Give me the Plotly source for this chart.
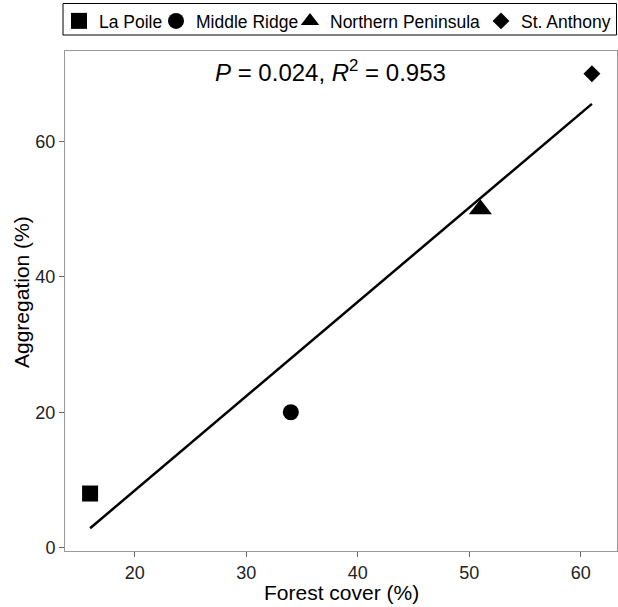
import numpy as np
import plotly.graph_objects as go

sites = ["La Poile", "Middle Ridge", "Northern Peninsula", "St. Anthony"]
forest_cover = [16, 34, 51, 61]
aggregation = [8, 20, 50, 70]
symbols = ["square", "circle", "triangle-up", "diamond"]
sizes = [16, 16, 20, 13]
x_ticks = [20, 30, 40, 50, 60]
y_ticks = [0, 20, 40, 60]
x_title = "Forest cover (%)"
y_title = "Aggregation (%)"
stats_text = "<i>P</i> = 0.024, <i>R</i><sup>2</sup> = 0.953"

FONT = "Liberation Sans, Arial, sans-serif"
W, H = 618, 607
L, R, T, B = 65, 1, 51, 56
PW, PH = W - L - R, H - T - B

# legend text start positions (px) for each entry
legend_text_x = [99, 196, 330, 521]
legend_names = ["legend", "legend2", "legend3", "legend4"]

fig = go.Figure()
for s, x, y, sym, sz, lg in zip(sites, forest_cover, aggregation, symbols, sizes, legend_names):
    fig.add_trace(go.Scatter(x=[x], y=[y], mode="markers", name=s, legend=lg,
                             marker=dict(symbol=sym, size=sz, color="black"),
                             showlegend=True))

slope, intercept = np.polyfit(forest_cover, aggregation, 1)
xl = np.array([min(forest_cover), max(forest_cover)])
fig.add_trace(go.Scatter(x=xl, y=slope * xl + intercept, mode="lines",
                         line=dict(color="black", width=2.5), showlegend=False))

fig.add_annotation(x=37.6, y=1.0, xref="x", yref="paper", yanchor="middle", yshift=-20,
                   text=stats_text, showarrow=False,
                   font=dict(size=24, color="black", family=FONT))

# axis titles placed as annotations
fig.add_annotation(x=0.5, y=(H - B - 592) / PH, xref="paper", yref="paper",
                   xanchor="center", yanchor="middle", text=x_title, showarrow=False,
                   font=dict(size=21, color="black", family=FONT))
fig.add_annotation(x=(21 - L) / PW, y=(H - B - 292) / PH, xref="paper", yref="paper",
                   xanchor="center", yanchor="middle", text=y_title, showarrow=False,
                   textangle=-90, font=dict(size=21, color="black", family=FONT))

# legend border box
fig.add_shape(type="rect", xref="paper", yref="paper",
              x0=(63 - L) / PW, x1=(616.5 - L) / PW,
              y0=(H - B - 35) / PH, y1=(H - B - 3.5) / PH,
              line=dict(color="black", width=1), fillcolor="rgba(0,0,0,0)", layer="above")

axis_common = dict(showgrid=False, zeroline=False, showline=True, linecolor="#999999",
                   linewidth=1, mirror=True, ticks="outside", ticklen=5,
                   tickcolor="#666666", tickfont=dict(size=18, color="#222222", family=FONT))

legend_layouts = {}
for lg, tx in zip(legend_names, legend_text_x):
    legend_layouts[lg] = dict(orientation="h", x=(tx - 40 - L) / PW, xanchor="left",
                              y=1 - 3 / H, yanchor="top", yref="container",
                              borderwidth=0, bgcolor="rgba(0,0,0,0)",
                              font=dict(size=17.5, family=FONT, color="black"),
                              itemwidth=30)

fig.update_layout(
    width=W, height=H,
    margin=dict(l=L, r=R, t=T, b=B, autoexpand=False),
    plot_bgcolor="white", paper_bgcolor="white",
    font=dict(family=FONT, color="black"),
    xaxis=dict(range=[13.75, 63.25], tickvals=x_ticks, **axis_common),
    yaxis=dict(range=[-0.49, 73.36], tickvals=y_ticks, **axis_common),
    **legend_layouts,
)

fig.write_html("out.html", config={"displayModeBar": False},
               post_script="document.body.style.margin='0';document.body.style.overflow='hidden';")
